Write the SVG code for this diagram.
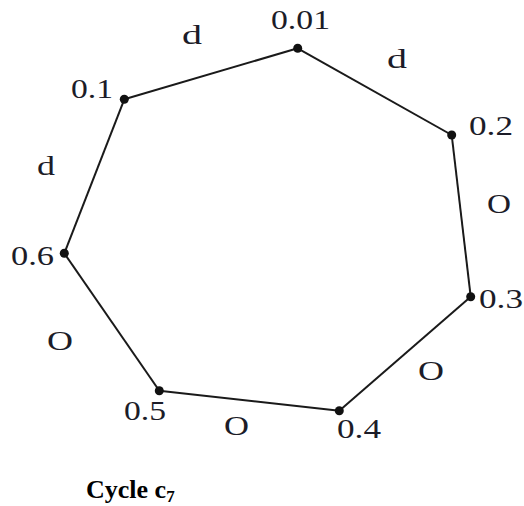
<svg xmlns="http://www.w3.org/2000/svg" width="524" height="506" viewBox="0 0 524 506">
<style>
.lbl{font-family:"Liberation Serif","Times New Roman",serif;font-size:28px;fill:#1c1c28}
.edge{stroke:#1a1a1a;stroke-width:2;fill:none}
.dot{fill:#111}
.cap{font-family:"Liberation Serif","Times New Roman",serif;font-size:26px;font-weight:bold;fill:#000}
</style>
<rect width="524" height="506" fill="#fff"/>
<g id="connectors">
<line class="edge" x1="297.7" y1="48.3" x2="451.7" y2="135"/>
<line class="edge" x1="451.7" y1="135" x2="470.7" y2="296.7"/>
<line class="edge" x1="470.7" y1="296.7" x2="339.3" y2="410.7"/>
<line class="edge" x1="339.3" y1="410.7" x2="159.3" y2="390.7"/>
<line class="edge" x1="159.3" y1="390.7" x2="64.3" y2="253.3"/>
<line class="edge" x1="64.3" y1="253.3" x2="124.3" y2="99.3"/>
<line class="edge" x1="124.3" y1="99.3" x2="297.7" y2="48.3"/>
</g>
<g id="edge-labels">
<text class="lbl" x="182" y="44" textLength="20" lengthAdjust="spacingAndGlyphs">d</text>
<text class="lbl" x="387" y="68" textLength="20" lengthAdjust="spacingAndGlyphs">d</text>
<text class="lbl" x="37" y="175" textLength="18" lengthAdjust="spacingAndGlyphs">d</text>
<text class="lbl" x="487" y="213" textLength="24" lengthAdjust="spacingAndGlyphs">O</text>
<text class="lbl" x="47" y="350" textLength="26" lengthAdjust="spacingAndGlyphs">O</text>
<text class="lbl" x="418" y="380" textLength="26" lengthAdjust="spacingAndGlyphs">O</text>
<text class="lbl" x="224" y="435" textLength="25" lengthAdjust="spacingAndGlyphs">O</text>
</g>
<g id="n001"><circle class="dot" cx="297.7" cy="48.3" r="4.5"/><text class="lbl" x="271" y="29" textLength="59" lengthAdjust="spacingAndGlyphs">0.01</text></g>
<g id="n02"><circle class="dot" cx="451.7" cy="135" r="4.5"/><text class="lbl" x="469" y="135" textLength="44" lengthAdjust="spacingAndGlyphs">0.2</text></g>
<g id="n03"><circle class="dot" cx="470.7" cy="296.7" r="4.5"/><text class="lbl" x="479" y="308" textLength="44" lengthAdjust="spacingAndGlyphs">0.3</text></g>
<g id="n04"><circle class="dot" cx="339.3" cy="410.7" r="4.5"/><text class="lbl" x="337" y="438" textLength="44" lengthAdjust="spacingAndGlyphs">0.4</text></g>
<g id="n05"><circle class="dot" cx="159.3" cy="390.7" r="4.5"/><text class="lbl" x="124" y="420" textLength="42" lengthAdjust="spacingAndGlyphs">0.5</text></g>
<g id="n06"><circle class="dot" cx="64.3" cy="253.3" r="4.5"/><text class="lbl" x="11" y="265" textLength="43" lengthAdjust="spacingAndGlyphs">0.6</text></g>
<g id="n01"><circle class="dot" cx="124.3" cy="99.3" r="4.5"/><text class="lbl" x="71" y="98" textLength="42" lengthAdjust="spacingAndGlyphs">0.1</text></g>
<g id="caption"><text class="cap" x="86" y="498">Cycle c<tspan font-size="17" dy="4">7</tspan></text></g>
</svg>
